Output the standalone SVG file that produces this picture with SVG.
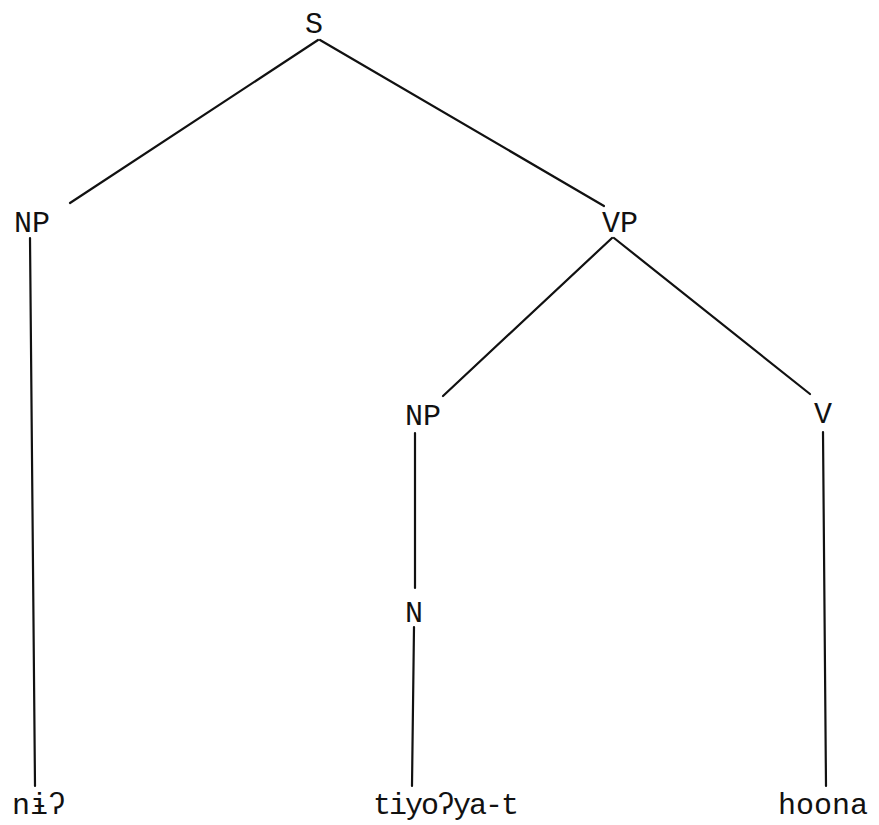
<svg xmlns="http://www.w3.org/2000/svg" width="879" height="825" viewBox="0 0 879 825">
<style>
text { font-family: "Liberation Mono", "DejaVu Sans Mono", monospace; font-size: 30px; fill: #111; }
.e { stroke: #111; stroke-width: 2.2; fill: none; stroke-linecap: round; }
</style>
<rect width="879" height="825" fill="#fff"/>
<g id="connectors">
<line class="e" x1="318" y1="40" x2="70" y2="203"/>
<line class="e" x1="320" y1="40" x2="604" y2="206"/>
<line class="e" x1="30" y1="238" x2="35" y2="786"/>
<line class="e" x1="612" y1="238" x2="443" y2="396"/>
<line class="e" x1="614" y1="238" x2="810" y2="394"/>
<line class="e" x1="415" y1="433" x2="415" y2="588"/>
<line class="e" x1="414" y1="627" x2="412" y2="786"/>
<line class="e" x1="823" y1="432" x2="826" y2="786"/>
</g>
<g id="node-S"><text x="314" y="33" text-anchor="middle">S</text></g>
<g id="node-NP1"><text x="32" y="232" text-anchor="middle">NP</text></g>
<g id="node-VP"><text x="620" y="232" text-anchor="middle">VP</text></g>
<g id="node-NP2"><text x="423" y="425" text-anchor="middle">NP</text></g>
<g id="node-V"><text x="823" y="423" text-anchor="middle">V</text></g>
<g id="node-N"><text x="414" y="622" text-anchor="middle">N</text></g>
<g id="leaf-ni"><text x="12" y="814">nɨʔ</text></g>
<g id="leaf-tiyoya"><text x="373" y="814" textLength="146" lengthAdjust="spacing">tiyoʔya-t</text></g>
<g id="leaf-hoona"><text x="778" y="814">hoona</text></g>
</svg>
